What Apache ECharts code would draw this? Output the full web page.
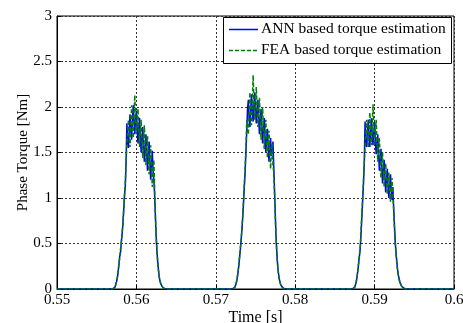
<!DOCTYPE html>
<html>
<head>
<meta charset="utf-8">
<script src="https://cdn.jsdelivr.net/npm/echarts@6/dist/echarts.min.js"></script>
<style>html,body{margin:0;padding:0;background:#fff;}#c{width:463px;height:323px;}</style>
</head>
<body>
<div id="c"></div>
<script>
// ---- data ----
const xTicks = [0.55, 0.56, 0.57, 0.58, 0.59, 0.6];
const yTicks = [0, 0.5, 1, 1.5, 2, 2.5, 3];
const seriesNames = ['ANN based torque estimation', 'FEA based torque estimation'];

const leadTime = [0.5500, 0.5520, 0.5540, 0.5560];
const leadAnn = [0, 0, 0, 0];
const leadFea = [0, 0, 0, 0];

const pulse1Time = [0.5570,0.5571,0.5572,0.5573,0.5574,0.5575,0.5576,0.5577,0.5578,0.5579,
  0.5580,0.5581,0.5582,0.5583,0.5584,0.5585,0.5586,0.5587,0.5588,0.5589,
  0.5590,0.5591,0.5592,0.5593,0.5594,0.5595,0.5596,0.5597,0.5598,0.5599,
  0.5600,0.5601,0.5602,0.5603,0.5604,0.5605,0.5606,0.5607,0.5608,0.5609,
  0.5610,0.5611,0.5612,0.5613,0.5614,0.5615,0.5616,0.5617,0.5618,0.5619,
  0.5620,0.5621,0.5622,0.5623,0.5624,0.5625,0.5626,0.5627,0.5628,0.5629,
  0.5630,0.5631,0.5632,0.5633,0.5634,0.5635,0.5636,0.5637,0.5638,0.5639,0.5640];
const pulse1Ann = [0,0.01,0,0.02,0.04,0.08,0.12,0.19,0.27,0.36,
  0.40,0.52,0.60,0.72,0.86,1.04,1.12,1.40,1.82,1.62,
  1.55,1.74,1.92,1.74,1.64,1.86,2.02,1.84,1.70,1.86,
  1.96,1.76,1.60,1.76,1.88,1.66,1.50,1.66,1.78,1.56,
  1.40,1.56,1.70,1.48,1.30,1.48,1.62,1.40,1.20,1.38,
  1.52,1.30,1.20,1.02,0.78,0.56,0.40,0.28,0.19,0.12,
  0.08,0.05,0.03,0.02,0.01,0.01,0,0,0,0,0];
const pulse1Fea = [0,0,0.01,0.02,0.05,0.07,0.13,0.18,0.28,0.34,
  0.44,0.50,0.62,0.70,0.88,1.00,1.16,1.38,1.58,1.70,
  1.86,1.66,1.56,1.80,2.02,1.78,1.66,1.92,2.13,1.86,
  1.70,1.88,1.98,1.74,1.56,1.74,1.86,1.62,1.44,1.66,
  1.80,1.58,1.36,1.56,1.68,1.46,1.26,1.44,1.58,1.34,
  1.12,1.36,1.42,1.10,0.80,0.56,0.40,0.28,0.19,0.12,
  0.08,0.05,0.03,0.02,0.01,0,0,0,0,0,0];

const gap1Time = [0.5660, 0.5680, 0.5700];
const gap1Ann = [0, 0, 0];
const gap1Fea = [0, 0, 0];

const pulse2Time = [0.5721,0.5722,0.5723,0.5724,0.5725,0.5726,0.5727,0.5728,0.5729,0.5730,
  0.5731,0.5732,0.5733,0.5734,0.5735,0.5736,0.5737,0.5738,0.5739,0.5740,
  0.5741,0.5742,0.5743,0.5744,0.5745,0.5746,0.5747,0.5748,0.5749,0.5750,
  0.5751,0.5752,0.5753,0.5754,0.5755,0.5756,0.5757,0.5758,0.5759,0.5760,
  0.5761,0.5762,0.5763,0.5764,0.5765,0.5766,0.5767,0.5768,0.5769,0.5770,
  0.5771,0.5772,0.5773,0.5774,0.5775,0.5776,0.5777,0.5778,0.5779,0.5780,
  0.5781,0.5782,0.5783,0.5784,0.5785,0.5786,0.5787,0.5788,0.5789,0.5790,0.5791];
const pulse2Ann = [0,0,0.01,0.02,0.04,0.07,0.12,0.18,0.26,0.35,
  0.44,0.55,0.66,0.80,0.96,1.14,1.30,1.52,1.74,1.98,
  2.08,1.86,1.78,1.98,2.14,1.94,1.84,2.02,2.16,1.96,
  1.82,1.98,2.08,1.86,1.70,1.88,1.98,1.76,1.60,1.76,
  1.88,1.66,1.50,1.66,1.76,1.56,1.40,1.56,1.66,1.46,
  1.44,1.62,1.34,1.08,0.80,0.55,0.38,0.25,0.17,0.11,
  0.07,0.04,0.03,0.02,0.01,0.01,0,0,0,0,0];
const pulse2Fea = [0,0,0.01,0.02,0.05,0.08,0.13,0.19,0.27,0.36,
  0.46,0.56,0.68,0.82,0.98,1.16,1.34,1.56,1.86,1.76,
  1.70,1.92,2.16,1.96,1.80,2.06,2.35,2.06,1.86,2.04,
  2.22,1.98,1.78,1.96,2.10,1.86,1.64,1.86,2.00,1.76,
  1.54,1.72,1.86,1.64,1.44,1.62,1.74,1.52,1.32,1.50,
  1.60,1.36,1.28,1.04,0.78,0.54,0.37,0.25,0.16,0.10,
  0.07,0.04,0.02,0.01,0.01,0,0,0,0,0,0];

const gap2Time = [0.5810, 0.5830, 0.5850];
const gap2Ann = [0, 0, 0];
const gap2Fea = [0, 0, 0];

const pulse3Time = [0.5872,0.5873,0.5874,0.5875,0.5876,0.5877,0.5878,0.5879,0.5880,0.5881,
  0.5882,0.5883,0.5884,0.5885,0.5886,0.5887,0.5888,0.5889,0.5890,0.5891,
  0.5892,0.5893,0.5894,0.5895,0.5896,0.5897,0.5898,0.5899,0.5900,0.5901,
  0.5902,0.5903,0.5904,0.5905,0.5906,0.5907,0.5908,0.5909,0.5910,0.5911,
  0.5912,0.5913,0.5914,0.5915,0.5916,0.5917,0.5918,0.5919,0.5920,0.5921,
  0.5922,0.5923,0.5924,0.5925,0.5926,0.5927,0.5928,0.5929,0.5930,0.5931,
  0.5932,0.5933,0.5934,0.5935,0.5936,0.5937,0.5938,0.5939,0.5940,0.5941,0.5942];
const pulse3Ann = [0,0,0.01,0.02,0.04,0.08,0.14,0.21,0.29,0.37,
  0.46,0.62,0.80,0.98,1.16,1.40,1.84,1.62,1.56,1.70,
  1.86,1.68,1.56,1.74,1.88,1.70,1.58,1.72,1.84,1.62,
  1.48,1.60,1.70,1.48,1.30,1.44,1.54,1.34,1.16,1.30,
  1.42,1.22,1.06,1.20,1.32,1.12,1.00,1.14,1.26,1.08,
  0.98,1.12,0.90,0.70,0.52,0.40,0.30,0.21,0.15,0.11,
  0.07,0.05,0.03,0.02,0.01,0.01,0,0,0,0,0];
const pulse3Fea = [0,0,0.01,0.02,0.05,0.09,0.14,0.21,0.30,0.38,
  0.48,0.66,0.84,1.00,1.20,1.38,1.56,1.72,1.86,1.68,
  1.56,1.76,1.94,1.74,1.58,1.80,2.03,1.80,1.58,1.74,
  1.86,1.62,1.40,1.58,1.66,1.44,1.22,1.40,1.50,1.30,
  1.12,1.28,1.38,1.20,1.04,1.18,1.28,1.12,0.96,1.10,
  1.22,1.04,0.86,0.66,0.50,0.38,0.28,0.20,0.14,0.10,
  0.07,0.05,0.03,0.02,0.01,0,0,0,0,0,0];

const tailTime = [0.5960, 0.5980, 0.6000];
const tailAnn = [0, 0, 0];
const tailFea = [0, 0, 0];

// ---- build series data ----
const timeAll = [].concat(leadTime, pulse1Time, gap1Time, pulse2Time, gap2Time, pulse3Time, tailTime);
const annAll = [].concat(leadAnn, pulse1Ann, gap1Ann, pulse2Ann, gap2Ann, pulse3Ann, tailAnn);
const feaAll = [].concat(leadFea, pulse1Fea, gap1Fea, pulse2Fea, gap2Fea, pulse3Fea, tailFea);
const annData = timeAll.map((t, i) => [t, annAll[i]]);
const feaData = timeAll.map((t, i) => [t, feaAll[i]]);

const FONT = 'Liberation Serif';
const chart = echarts.init(document.getElementById('c'), null, {renderer: 'canvas'});
chart.setOption({
  animation: false,
  backgroundColor: '#ffffff',
  grid: {left: 57, top: 16, width: 397, height: 273, show: true, borderColor: '#000', borderWidth: 1,
         backgroundColor: 'transparent', containLabel: false, outerBoundsMode: 'none'},
  legend: {show: false, data: seriesNames},
  graphic: [
    {type: 'rect', shape: {x: 223.5, y: 17.5, width: 228, height: 46}, style: {fill: '#fff', stroke: '#000', lineWidth: 1}, z: 50},
    {type: 'line', shape: {x1: 229, y1: 29.5, x2: 258, y2: 29.5}, style: {stroke: '#0000ff', lineWidth: 1.5}, z: 51},
    {type: 'text', x: 261, y: 29, style: {text: seriesNames[0], font: '15.5px "Liberation Serif"', fill: '#000', verticalAlign: 'middle'}, z: 51},
    {type: 'line', shape: {x1: 229, y1: 50.5, x2: 258, y2: 50.5}, style: {stroke: '#008000', lineWidth: 1.5, lineDash: [4, 2]}, z: 51},
    {type: 'text', x: 261, y: 50, style: {text: seriesNames[1], font: '15.5px "Liberation Serif"', fill: '#000', verticalAlign: 'middle'}, z: 51}
  ],
  xAxis: {
    type: 'value', min: xTicks[0], max: xTicks[xTicks.length - 1], interval: 0.01,
    name: 'Time [s]', nameLocation: 'middle', nameGap: 21, nameMoveOverlap: false,
    nameTextStyle: {fontFamily: FONT, fontSize: 16, color: '#000'},
    axisLine: {show: true, lineStyle: {color: '#000', width: 1}},
    axisTick: {show: true, inside: true, length: 4, lineStyle: {color: '#000'}},
    axisLabel: {margin: 4, fontFamily: FONT, fontSize: 15, color: '#000', formatter: v => String(+v.toFixed(2))},
    splitLine: {show: true, lineStyle: {color: '#333', width: 1, type: [2, 2]}}
  },
  yAxis: {
    type: 'value', min: yTicks[0], max: yTicks[yTicks.length - 1], interval: 0.5,
    name: 'Phase Torque [Nm]', nameLocation: 'middle', nameGap: 26, nameRotate: 90, nameMoveOverlap: false,
    nameTextStyle: {fontFamily: FONT, fontSize: 15, color: '#000'},
    axisLine: {show: true, lineStyle: {color: '#000', width: 1}},
    axisTick: {show: true, inside: true, length: 4, lineStyle: {color: '#000'}},
    axisLabel: {margin: 5, fontFamily: FONT, fontSize: 15, color: '#000', formatter: v => String(+v.toFixed(1))},
    splitLine: {show: true, lineStyle: {color: '#333', width: 1, type: [2, 2]}}
  },
  series: [
    {name: seriesNames[0], type: 'line', data: annData, symbol: 'none', lineStyle: {color: '#0000ff', width: 1.5, type: 'solid'}, itemStyle: {color: '#0000ff'}, z: 3},
    {name: seriesNames[1], type: 'line', data: feaData, symbol: 'none', lineStyle: {color: '#008000', width: 1.5, type: [4, 2]}, itemStyle: {color: '#008000'}, z: 4}
  ]
});
</script>
</body>
</html>
